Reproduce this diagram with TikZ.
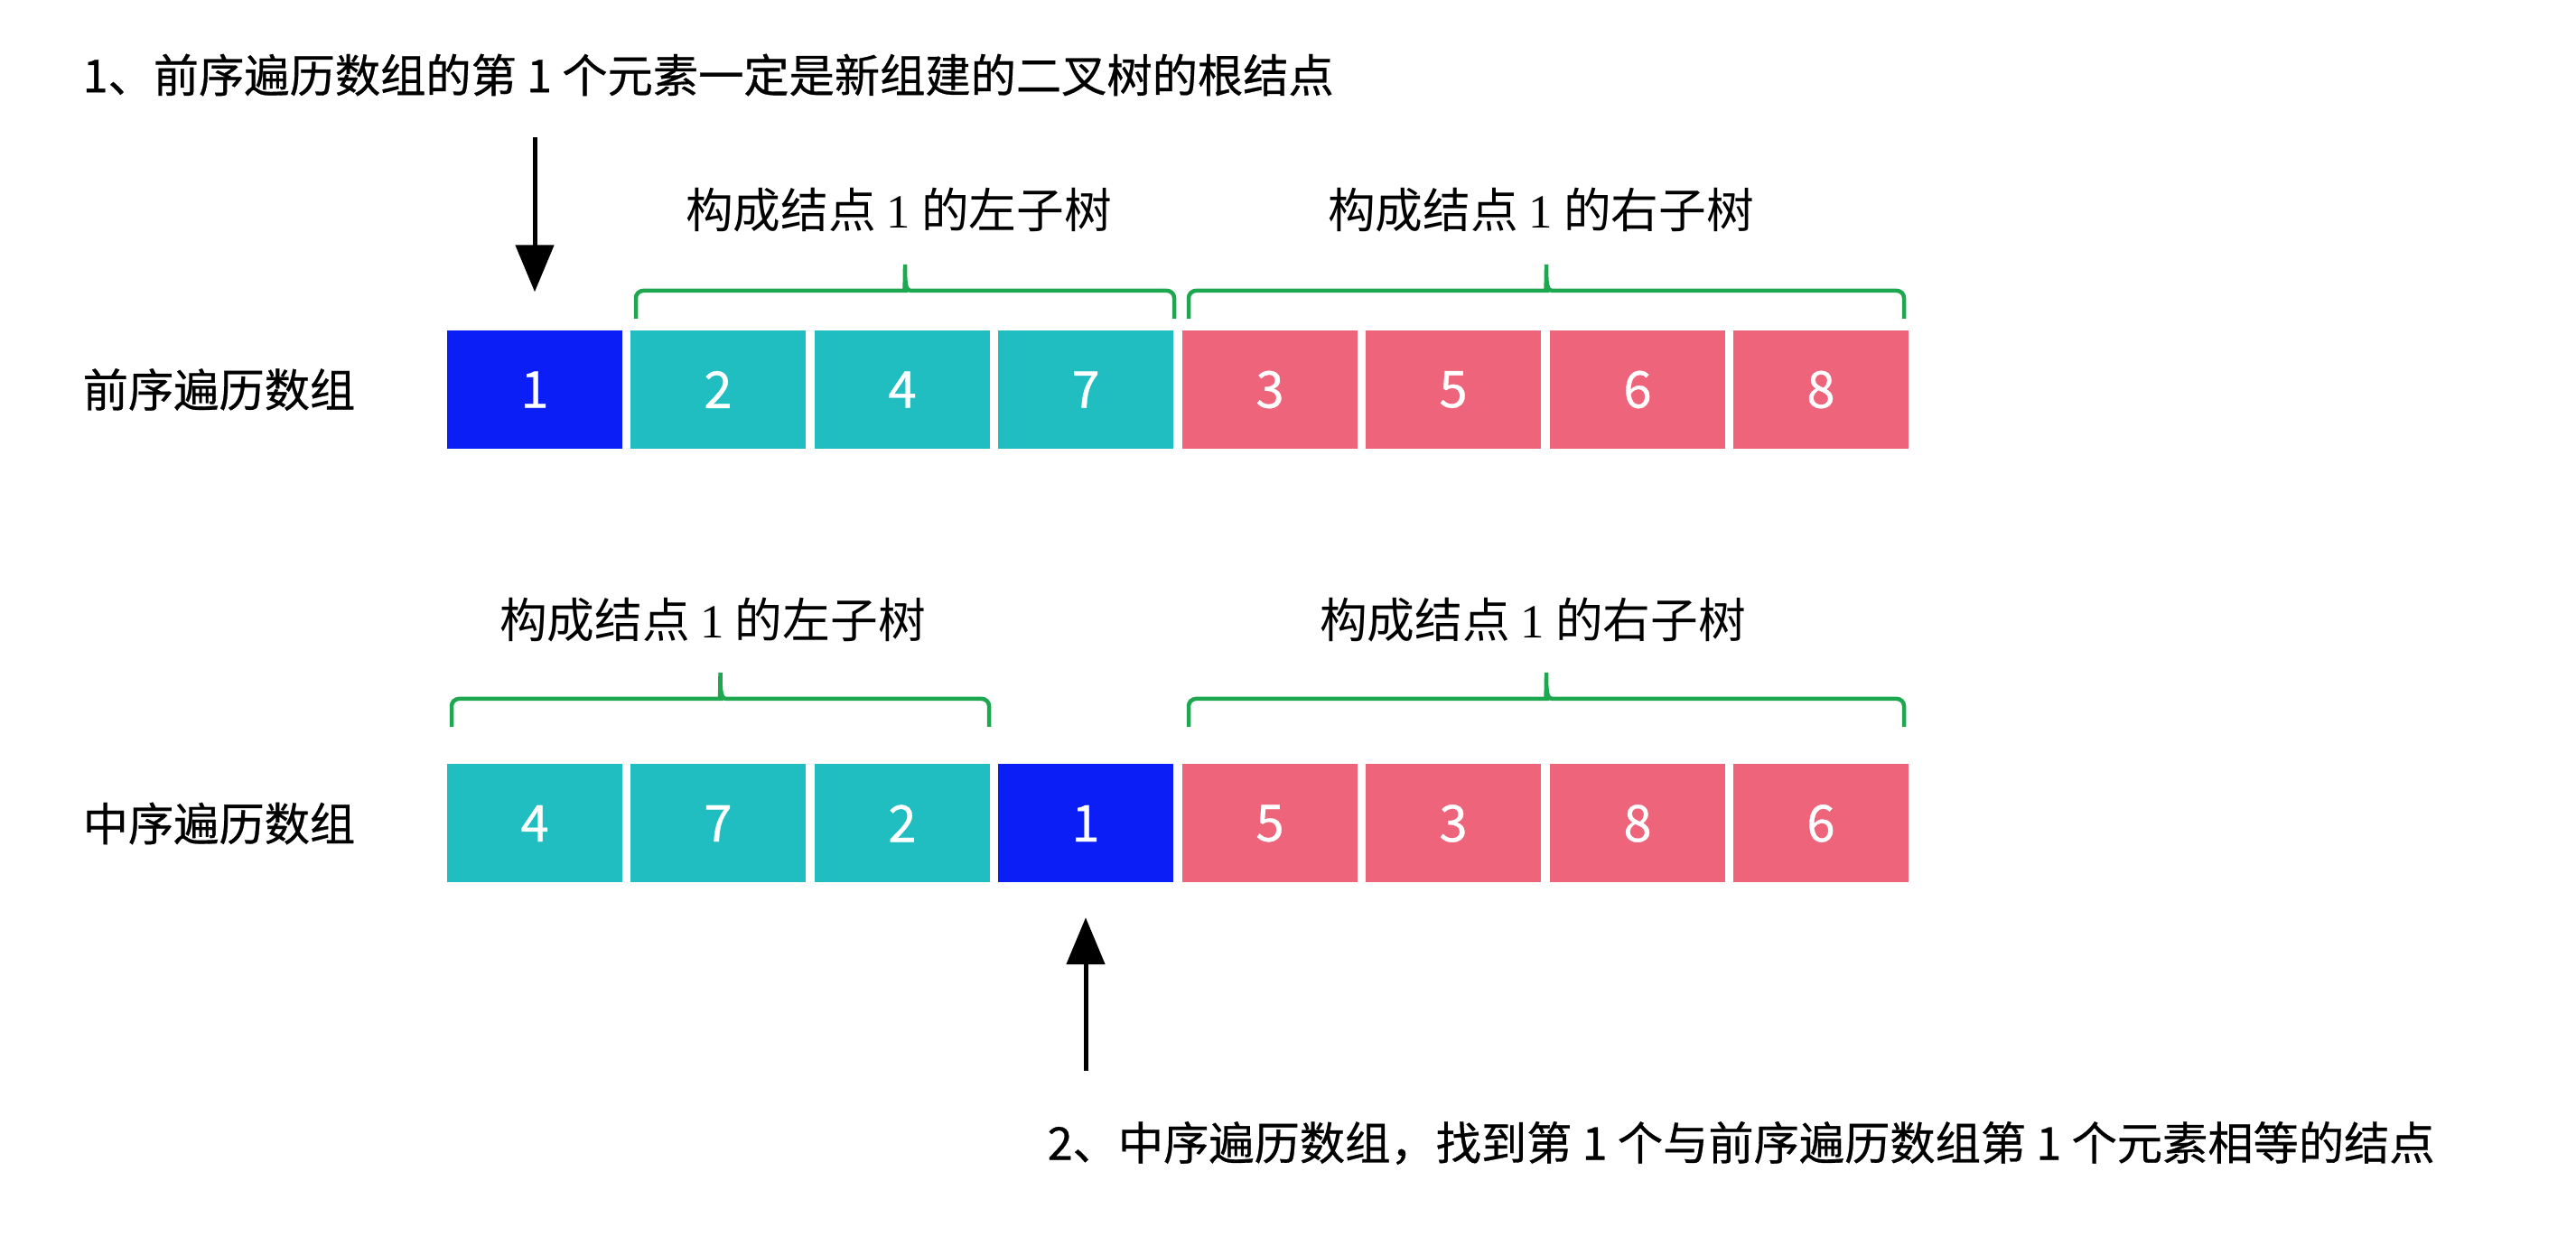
\documentclass[tikz,border=0pt]{standalone}
\usepackage{fontspec}
\setmainfont{Noto Sans CJK SC}
\newfontfamily\heavycjk{Noto Sans CJK SC}[FakeBold=0.6]
\newfontfamily\serifnum{Liberation Serif}
\usetikzlibrary{arrows.meta}

\definecolor{rootblue}{RGB}{10,30,245}
\definecolor{subteal}{RGB}{32,190,192}
\definecolor{subpink}{RGB}{238,100,122}
\definecolor{bracegreen}{RGB}{29,168,80}

% curly bracket over a run of cells: left x, right x, foot y
\newcommand{\subtreebrace}[3]{%
  \draw[brace] (#1,#3) [rounded corners=0.08cm] -- (#1,#3+0.31)
    -- ({(#1+#2)/2-0.08},#3+0.31) [sharp corners]
    .. controls ({(#1+#2)/2-0.01},#3+0.31) and ({(#1+#2)/2},#3+0.35) .. ({(#1+#2)/2},#3+0.60)
    .. controls ({(#1+#2)/2},#3+0.35) and ({(#1+#2)/2+0.01},#3+0.31) .. ({(#1+#2)/2+0.08},#3+0.31)
    [rounded corners=0.08cm] -- (#2,#3+0.31) -- (#2,#3);}

\begin{document}
\begin{tikzpicture}[
    cell/.style={minimum width=1.935cm, minimum height=1.31cm, inner sep=0pt,
      text=white, font=\heavycjk\fontsize{16pt}{18pt}\selectfont},
    root/.style={cell, fill=rootblue},
    lsub/.style={cell, fill=subteal},
    rsub/.style={cell, fill=subpink},
    title/.style={font=\heavycjk\fontsize{14.3pt}{16pt}\selectfont, inner sep=0pt, anchor=west},
    part/.style={font=\fontsize{15pt}{17pt}\selectfont, inner sep=0pt},
    brace/.style={draw=bracegreen, line width=0.045cm},
    arr/.style={-{Triangle[width=0.42cm, length=0.52cm]}, line width=0.05cm},
  ]
  \useasboundingbox (0,0) rectangle (28.52,13.80);

  % Steps
  \node[title] (step1) at (0.91,12.97) {1、前序遍历数组的第 1 个元素一定是新组建的二叉树的根结点};
  \node[title] (step2) at (11.59,1.14) {2、中序遍历数组，找到第 1 个与前序遍历数组第 1 个元素相等的结点};

  % Preorder
  \node[title] (prelabel) at (0.91,9.485) {前序遍历数组};
  \node[root] (pre0) at (5.92,9.485)  {1};
  \node[lsub] (pre1) at (7.95,9.485)  {2};
  \node[lsub] (pre2) at (9.99,9.485)  {4};
  \node[lsub] (pre3) at (12.02,9.485) {7};
  \node[rsub] (pre4) at (14.06,9.485) {3};
  \node[rsub] (pre5) at (16.09,9.485) {5};
  \node[rsub] (pre6) at (18.13,9.485) {6};
  \node[rsub] (pre7) at (20.16,9.485) {8};

  % Inorder
  \node[title] (inlabel) at (0.91,4.68) {中序遍历数组};
  \node[lsub] (in0) at (5.92,4.68)  {4};
  \node[lsub] (in1) at (7.95,4.68)  {7};
  \node[lsub] (in2) at (9.99,4.68)  {2};
  \node[root] (in3) at (12.02,4.68) {1};
  \node[rsub] (in4) at (14.06,4.68) {5};
  \node[rsub] (in5) at (16.09,4.68) {3};
  \node[rsub] (in6) at (18.13,4.68) {8};
  \node[rsub] (in7) at (20.16,4.68) {6};

  % Subtrees
  \subtreebrace{7.04}{13.00}{10.27}
  \subtreebrace{13.16}{21.08}{10.27}
  \subtreebrace{5.00}{10.95}{5.75}
  \subtreebrace{13.16}{21.08}{5.75}

  \node[part] (preleft)  at (9.95,11.47)  {构成结点 {\serifnum 1} 的左子树};
  \node[part] (preright) at (17.06,11.47) {构成结点 {\serifnum 1} 的右子树};
  \node[part] (inleft)   at (7.89,6.93)   {构成结点 {\serifnum 1} 的左子树};
  \node[part] (inright)  at (16.97,6.93)  {构成结点 {\serifnum 1} 的右子树};

  % Arrows
  \coordinate (roottop) at ([yshift=2.13cm]pre0.north);
  \coordinate (findbot) at ([yshift=-2.08cm]in3.south);
  \draw[arr, shorten >=0.42cm] (roottop) -- (pre0.north);
  \draw[arr, shorten >=0.38cm] (findbot) -- (in3.south);
\end{tikzpicture}
\end{document}
